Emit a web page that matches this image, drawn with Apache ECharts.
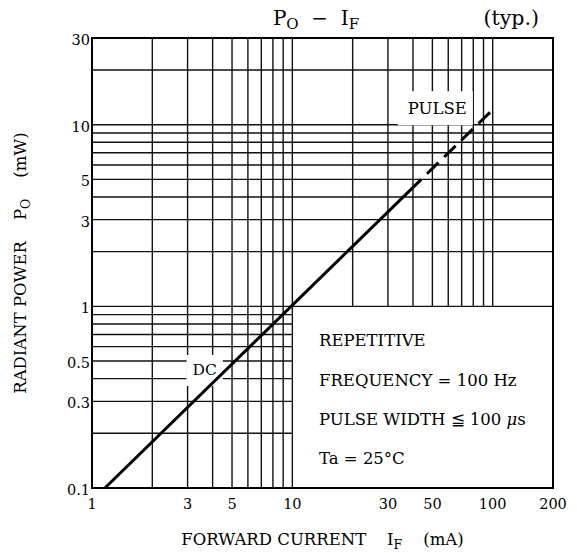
<!DOCTYPE html>
<html><head><meta charset="utf-8">
<script src="https://cdn.jsdelivr.net/npm/echarts@6/dist/echarts.min.js"></script>
<style>html,body{margin:0;padding:0;background:#fff}#c{width:577px;height:553px}</style>
</head><body><div id="c"></div>
<script>
// ---- data ----
const xTickLabels = [1, 3, 5, 10, 30, 50, 100, 200];
const yTickLabels = [0.1, 0.3, 0.5, 1, 3, 5, 10, 30];
const xGridFull = [2, 3, 4, 5, 6, 7, 8, 9, 10];          // vertical lines, full height
const xGridUpper = [20, 30, 40, 50, 60, 70, 80, 90, 100]; // vertical lines above 1 mW
const yGridLeft = [0.2, 0.3, 0.4, 0.5, 0.6, 0.7, 0.8, 0.9]; // horizontal lines left of 10 mA
const yGridFull = [1, 2, 3, 4, 5, 6, 7, 8, 9, 10, 20];    // horizontal lines full width
const dcCurrent = [1.16, 44];
const dcPower = [0.1, 5.0];
const pulseCurrent = [44, 100];
const pulsePower = [5.0, 12.1];
const xRange = [1, 200];
const yRange = [0.1, 30];

const FONT = "'DejaVu Serif', 'Liberation Serif', serif";

// grid segments [x1, y1, x2, y2]
const segs = [];
xGridFull.forEach(v => segs.push([v, yRange[0], v, yRange[1]]));
xGridUpper.forEach(v => segs.push([v, 1, v, yRange[1]]));
yGridLeft.forEach(v => segs.push([xRange[0], v, 10, v]));
yGridFull.forEach(v => segs.push([xRange[0], v, xRange[1], v]));

const chart = echarts.init(document.getElementById('c'), null, {renderer: 'svg'});

const nameRich = {
  n: {fontFamily: FONT, fontSize: 16.5, color: '#000', lineHeight: 18},
  s: {fontFamily: FONT, fontSize: 12.5, color: '#000', lineHeight: 12, padding: [10, 0, 0, 0]}
};

const option = {
  animation: false,
  backgroundColor: '#fff',
  grid: {left: 92, right: 24, top: 38, bottom: 65, containLabel: false, outerBoundsMode: 'none',
    show: true, borderColor: '#000', borderWidth: 2, backgroundColor: 'transparent'},
  xAxis: {
    type: 'log', logBase: 10, min: xRange[0], max: xRange[1],
    axisLine: {show: true, lineStyle: {color: '#000', width: 2}},
    axisTick: {show: false}, splitLine: {show: false}, minorSplitLine: {show: false},
    axisLabel: {show: false},
    name: '{n|FORWARD CURRENT    I}{s|F}{n|    (mA)}',
    nameLocation: 'middle', nameGap: 42,
    nameTextStyle: {rich: nameRich}
  },
  yAxis: {
    type: 'log', logBase: 10, min: yRange[0], max: yRange[1],
    axisLine: {show: true, lineStyle: {color: '#000', width: 2}},
    axisTick: {show: false}, splitLine: {show: false}, minorSplitLine: {show: false},
    axisLabel: {show: false},
    name: '{n|RADIANT POWER    P}{s|O}{n|    (mW)}',
    nameLocation: 'middle', nameGap: 63,
    nameTextStyle: {rich: nameRich}
  },
  series: [
    {
      type: 'custom', z: 1, silent: true,
      data: segs,
      encode: {x: [0, 2], y: [1, 3]},
      renderItem: (params, api) => {
        const p1 = api.coord([api.value(0), api.value(1)]);
        const p2 = api.coord([api.value(2), api.value(3)]);
        return {type: 'line', shape: {x1: p1[0], y1: p1[1], x2: p2[0], y2: p2[1]},
          style: {stroke: '#111', lineWidth: 1.4}};
      }
    },
    {
      type: 'scatter', z: 2, silent: true, symbolSize: 0,
      itemStyle: {opacity: 1},
      data: [{value: [51.7, 12.3], name: 'PULSE', label: {fontSize: 16.5, padding: [10, 6, 7, 10]}},
             {value: [3.65, 0.444], name: 'DC', label: {padding: [10, 6, 5, 6]}}],
      label: {show: true, position: 'inside', formatter: '{b}', fontFamily: FONT, fontSize: 15.5, color: '#000',
        backgroundColor: '#fff', opacity: 1}
    },
    {
      type: 'line', z: 3, silent: true, symbol: 'none',
      data: dcCurrent.map((x, i) => [x, dcPower[i]]),
      lineStyle: {color: '#000', width: 3}
    },
    {
      type: 'line', z: 3, silent: true, symbol: 'none',
      data: pulseCurrent.map((x, i) => [x, pulsePower[i]]),
      lineStyle: {color: '#000', width: 3, type: [16, 8], dashOffset: 16}
    },
    {
      type: 'custom', z: 4, silent: true,
      data: xTickLabels.map(v => [v]),
      encode: {x: 0},
      renderItem: (params, api) => {
        const p = api.coord([api.value(0), yRange[0]]);
        return {type: 'text', x: p[0], y: p[1] + 16,
          style: {text: String(api.value(0)), fontFamily: FONT, fontSize: 14.5, fill: '#000', align: 'center', verticalAlign: 'middle'}};
      }
    },
    {
      type: 'custom', z: 4, silent: true,
      data: yTickLabels.map(v => [xRange[0], v]),
      encode: {x: 0, y: 1},
      renderItem: (params, api) => {
        const p = api.coord([xRange[0], api.value(1)]);
        return {type: 'text', x: p[0] - 2, y: p[1] + 2,
          style: {text: String(api.value(1)), fontFamily: FONT, fontSize: 14.5, fill: '#000', align: 'right', verticalAlign: 'middle'}};
      }
    }
  ],
  graphic: [
    {type: 'text', x: 316, y: 18, z: 10, style: {
      text: '{m|P}{s|O}{m|  −  I}{s|F}', align: 'center', verticalAlign: 'middle',
      rich: {
        m: {fontFamily: FONT, fontSize: 20, fill: '#000', lineHeight: 22},
        s: {fontFamily: FONT, fontSize: 15, fill: '#000', lineHeight: 15, padding: [11, 0, 0, 0]}
      }}},
    {type: 'text', x: 539, y: 18, z: 10, style: {text: '(typ.)', fontFamily: FONT, fontSize: 20.5, fill: '#000', align: 'right', verticalAlign: 'middle'}},
    {type: 'text', x: 319, y: 340, z: 10, style: {text: 'REPETITIVE', fontFamily: FONT, fontSize: 16.5, fill: '#000', verticalAlign: 'middle'}},
    {type: 'text', x: 319, y: 380, z: 10, style: {text: 'FREQUENCY = 100 Hz', fontFamily: FONT, fontSize: 16.5, fill: '#000', verticalAlign: 'middle'}},
    {type: 'text', x: 319, y: 419, z: 10, style: {text: '{n|PULSE WIDTH ≦ 100 }{i|μ}{n|s}', verticalAlign: 'middle',
      rich: {n: {fontFamily: FONT, fontSize: 16.5, fill: '#000'}, i: {fontFamily: FONT, fontSize: 16.5, fontStyle: 'italic', fill: '#000'}}}},
    {type: 'text', x: 319, y: 458, z: 10, style: {text: 'Ta = 25°C', fontFamily: FONT, fontSize: 16.5, fill: '#000', verticalAlign: 'middle'}}
  ]
};
chart.setOption(option);
</script>
</body></html>
